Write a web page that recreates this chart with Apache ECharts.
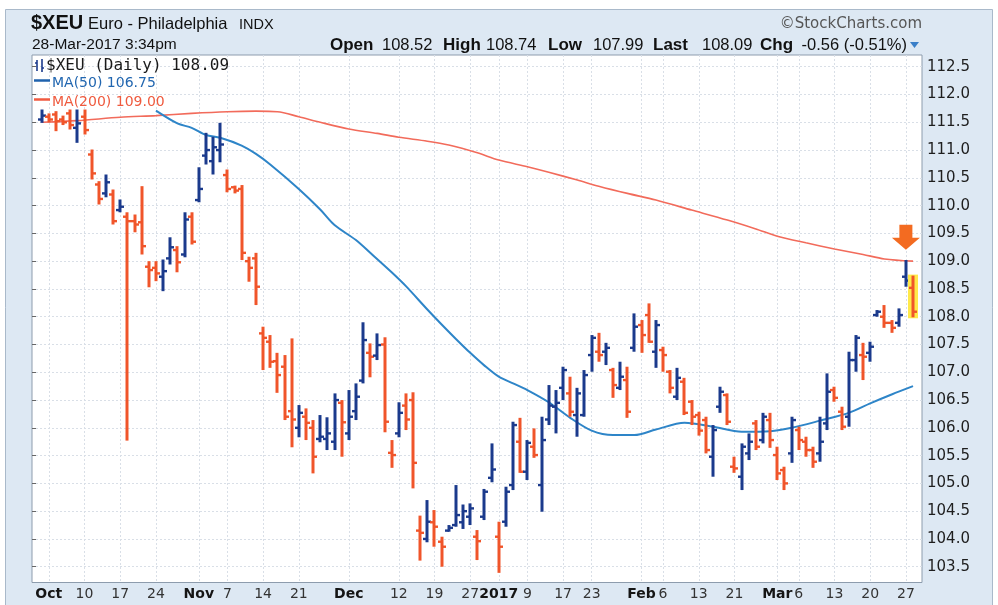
<!DOCTYPE html>
<html>
<head>
<meta charset="utf-8">
<script src="https://cdn.jsdelivr.net/npm/echarts@6/dist/echarts.min.js"></script>
<style>html,body{margin:0;padding:0;background:#fff;}#c{width:998px;height:605px;}</style>
</head>
<body>
<div id="c"></div>
<script>
// ---- categories: trading days ----
const dates = [
'2016-09-30',
'2016-10-03','2016-10-04','2016-10-05','2016-10-06','2016-10-07','2016-10-10','2016-10-11','2016-10-12','2016-10-13','2016-10-14',
'2016-10-17','2016-10-18','2016-10-19','2016-10-20','2016-10-21','2016-10-24','2016-10-25','2016-10-26','2016-10-27','2016-10-28','2016-10-31',
'2016-11-01','2016-11-02','2016-11-03','2016-11-04','2016-11-07','2016-11-08','2016-11-09','2016-11-10','2016-11-11','2016-11-14',
'2016-11-15','2016-11-16','2016-11-17','2016-11-18','2016-11-21','2016-11-22','2016-11-23','2016-11-25','2016-11-28','2016-11-29','2016-11-30',
'2016-12-01','2016-12-02','2016-12-05','2016-12-06','2016-12-07','2016-12-08','2016-12-09','2016-12-12','2016-12-13','2016-12-14',
'2016-12-15','2016-12-16','2016-12-19','2016-12-20','2016-12-21','2016-12-22','2016-12-23','2016-12-27','2016-12-28','2016-12-29','2016-12-30',
'2017-01-03','2017-01-04','2017-01-05','2017-01-06','2017-01-09','2017-01-10','2017-01-11','2017-01-12','2017-01-13','2017-01-17',
'2017-01-18','2017-01-19','2017-01-20','2017-01-23','2017-01-24','2017-01-25','2017-01-26','2017-01-27','2017-01-30','2017-01-31',
'2017-02-01','2017-02-02','2017-02-03','2017-02-06','2017-02-07','2017-02-08','2017-02-09','2017-02-10','2017-02-13','2017-02-14',
'2017-02-15','2017-02-16','2017-02-17','2017-02-21','2017-02-22','2017-02-23','2017-02-24','2017-02-27','2017-02-28',
'2017-03-01','2017-03-02','2017-03-03','2017-03-06','2017-03-07','2017-03-08','2017-03-09','2017-03-10','2017-03-13','2017-03-14',
'2017-03-15','2017-03-16','2017-03-17','2017-03-20','2017-03-21','2017-03-22','2017-03-23','2017-03-24','2017-03-27','2017-03-28'
];

// ---- OHLC values ----
const open = [
111.55,111.60,111.64,111.55,111.66,111.40,111.60,110.92,110.38,110.22,
110.20,109.92,109.80,109.72,109.70,108.90,108.88,108.72,109.05,109.20,
109.12,109.80,110.10,110.90,110.80,111.00,110.55,110.33,110.30,109.00,
109.05,107.70,107.55,107.20,107.10,106.30,106.00,106.20,106.00,105.80,
105.80,105.75,106.45,105.90,106.30,106.85,107.35,107.30,107.50,105.55,
105.90,106.40,106.50,104.15,104.00,104.30,103.95,104.15,104.25,104.30,
104.40,104.04,104.40,105.10,104.04,104.31,104.97,105.75,105.21,105.66,
104.97,106.15,106.38,106.72,106.62,106.23,106.23,107.31,107.37,107.37,
107.04,106.72,106.86,107.44,107.85,108.03,107.37,107.40,107.01,106.56,
106.83,106.47,106.23,106.14,105.48,106.38,106.59,105.30,105.12,105.54,
106.08,105.78,106.14,105.51,105.24,105.54,105.96,105.75,105.60,105.54,
106.08,106.68,106.29,106.20,107.22,107.31,107.35,108.03,108.00,107.89,
107.89,108.72,108.52];
const high = [
111.73,111.66,111.70,111.62,111.73,111.73,111.73,111.01,110.44,110.56,
110.29,110.11,109.88,109.84,110.35,109.00,109.00,109.03,109.43,109.27,
109.88,109.88,110.69,111.31,111.24,111.49,110.65,110.36,110.37,109.08,
109.15,107.82,107.67,107.35,107.31,107.61,106.41,106.35,106.14,106.23,
106.19,106.62,106.50,106.68,106.80,107.90,107.52,107.70,107.63,105.78,
106.46,106.62,106.64,104.42,104.70,104.52,104.04,104.25,104.97,104.62,
104.64,104.16,104.90,105.72,104.31,104.94,106.11,106.18,105.78,105.99,
106.20,106.77,106.68,107.10,106.92,106.72,107.04,107.67,107.71,107.53,
107.08,107.19,107.10,108.06,107.94,108.24,107.94,107.46,107.04,107.08,
106.90,106.50,106.29,106.20,106.05,106.74,106.62,105.48,105.72,105.90,
106.14,106.27,106.27,105.66,105.30,106.20,106.02,105.84,105.66,106.20,
106.98,106.74,106.38,107.37,107.67,107.53,107.55,108.12,108.21,107.94,
108.15,109.02,108.74];
const low = [
111.49,111.50,111.34,111.45,111.37,111.13,111.28,110.47,110.02,110.15,
109.66,109.88,105.77,109.52,109.12,108.53,108.64,108.46,108.94,108.80,
109.07,109.30,110.06,110.74,110.56,110.78,110.24,110.22,109.02,108.63,
108.21,107.04,107.08,106.63,106.14,105.65,105.83,105.78,105.18,105.74,
105.60,105.60,105.48,105.78,106.14,106.80,106.91,107.22,105.92,105.28,
105.83,105.96,104.91,103.61,103.94,103.86,103.50,104.13,104.22,104.18,
104.25,103.62,104.34,105.02,103.39,104.22,104.88,105.19,105.06,105.46,
104.49,106.05,105.90,106.50,106.20,105.84,106.20,107.01,107.19,107.13,
106.54,106.68,106.18,107.37,107.35,107.53,107.08,107.01,106.62,106.50,
106.23,106.05,105.86,105.54,105.12,106.27,106.05,105.19,104.88,105.42,
105.60,105.72,105.64,105.06,104.88,105.37,105.60,105.48,105.28,105.39,
105.96,106.47,105.96,106.02,107.01,106.86,107.19,108.00,107.80,107.71,
107.82,108.54,107.99];
const close = [
111.62,111.55,111.52,111.50,111.45,111.48,111.36,110.58,110.12,110.42,
109.72,109.98,109.72,109.66,109.27,108.84,108.78,108.82,109.25,108.98,
109.75,109.35,110.30,111.00,111.05,111.10,110.30,110.27,109.15,108.88,
108.54,107.62,107.19,106.95,106.20,106.15,106.27,106.09,105.48,105.84,
105.90,106.50,106.10,106.20,106.56,107.58,107.28,107.49,106.11,105.51,
106.27,106.15,105.37,104.11,104.31,104.22,103.86,104.20,104.43,104.50,
104.55,103.96,104.85,105.25,103.86,104.85,106.05,105.21,105.73,105.51,
105.78,106.40,106.45,107.04,106.29,106.62,106.95,107.62,107.31,107.44,
106.77,106.92,106.29,107.82,107.67,107.55,107.85,107.31,106.72,106.90,
106.27,106.20,105.95,105.60,105.96,106.65,106.11,105.27,105.66,105.75,
105.66,106.20,105.78,105.18,105.00,106.14,105.78,105.60,105.39,105.75,
106.65,106.54,106.02,107.22,107.62,107.28,107.46,108.09,107.89,107.80,
108.03,108.65,108.09];

const ma50Idx = [16,19,21,23,25,28,30,32,36,39,41,44,46,49,51,54,56,58,60,62,64,66,68,71,74,77,80,83,86,90,94,98,102,105,109,113,116,119,122];
const ma50Val = [111.71,111.48,111.40,111.27,111.22,111.08,110.93,110.74,110.30,109.93,109.65,109.38,109.15,108.80,108.55,108.13,107.86,107.60,107.35,107.12,106.92,106.80,106.68,106.46,106.18,105.95,105.87,105.87,105.97,106.09,106.02,105.93,105.94,106.00,106.13,106.27,106.44,106.60,106.75];
const ma200Idx = [0,5,11,16,21,26,30,33,36,39,43,47,50,54,57,61,64,68,71,75,78,82,86,91,96,100,103,107,111,115,118,122];
const ma200Val = [111.50,111.53,111.59,111.62,111.66,111.69,111.70,111.69,111.60,111.50,111.38,111.30,111.23,111.16,111.09,110.95,110.82,110.70,110.60,110.46,110.35,110.22,110.10,109.92,109.74,109.58,109.45,109.33,109.22,109.12,109.04,109.00];

// ---- axis tick labels ----
const tickDates = ['2016-10-03','2016-10-10','2016-10-17','2016-10-24','2016-11-01','2016-11-07','2016-11-14','2016-11-21',
'2016-12-01','2016-12-12','2016-12-19','2016-12-27','2017-01-03','2017-01-09','2017-01-17','2017-01-23',
'2017-02-01','2017-02-06','2017-02-13','2017-02-21','2017-03-01','2017-03-06','2017-03-13','2017-03-20','2017-03-27'];
const tickLabels = ['Oct','10','17','24','Nov','7','14','21','Dec','12','19','27','2017','9','17','23','Feb','6','13','21','Mar','6','13','20','27'];
const yTicks = [103.5,104.0,104.5,105.0,105.5,106.0,106.5,107.0,107.5,108.0,108.5,109.0,109.5,110.0,110.5,111.0,111.5,112.0,112.5];

// ---- header values ----
const symbol = '$XEU', title = 'Euro - Philadelphia', exch = 'INDX', stamp = '28-Mar-2017 3:34pm';
const chg = '-0.56 (-0.51%)';

const BLUE = '#1b3a8c', RED = '#f0552a';
const YMIN = 103.216, YMAX = 112.711;
const last = dates.length - 1;
const tickMap = {};
tickDates.forEach((d, k) => tickMap[d] = tickLabels[k]);
const isTick = (idx, val) => tickMap[dates[idx]] !== undefined;

const ohlc = dates.map((d, i) => [i, open[i], high[i], low[i], close[i]]);
const f2 = v => v.toFixed(2);

const chart = echarts.init(document.getElementById('c'), null, {renderer: 'canvas'});
const SANS = 'Liberation Sans, Arial, sans-serif';
const DV = 'DejaVu Sans, Verdana, sans-serif';
const GRIDC = '#d9dfe7';

const option = {
  backgroundColor: '#ffffff',
  animation: false,
  grid: [
    {left: 32, top: 55, width: 890, height: 527.5, show: true, backgroundColor: '#ffffff', borderColor: '#8d9cad', borderWidth: 1, z: 0},
    {left: 38.1, top: 55, width: 878.5, height: 527.5, show: false}
  ],
  xAxis: [
    {gridIndex: 0, type: 'value', min: 0, max: 1, show: false},
    {gridIndex: 1, type: 'category', data: dates, boundaryGap: true, z: 2,
      axisLine: {show: false}, axisTick: {show: false},
      axisLabel: {
        interval: isTick, margin: 5,
        formatter: v => { const t = tickMap[v]; return t.length > 2 ? '{b|' + t + '}' : '{n|' + t + '}'; },
        rich: {
          b: {fontFamily: DV, fontWeight: 'bold', fontSize: 14, color: '#151515'},
          n: {fontFamily: DV, fontSize: 14, color: '#333333'}
        }
      },
      splitLine: {show: true, interval: isTick, alignWithLabel: true, lineStyle: {color: GRIDC, width: 1, type: [2, 2]}}
    }
  ],
  yAxis: [
    {gridIndex: 0, type: 'value', position: 'right', min: YMIN, max: YMAX, z: 2,
      axisLine: {show: false},
      axisTick: {show: true, length: 4, customValues: yTicks, lineStyle: {color: '#666'}},
      axisLabel: {customValues: yTicks, formatter: v => v.toFixed(1), fontFamily: DV, fontSize: 15, color: '#1e1e1e', margin: 5},
      splitLine: {show: true, lineStyle: {color: GRIDC, width: 1, type: [2, 2]}}
    },
    {gridIndex: 1, type: 'value', min: YMIN, max: YMAX, show: false, splitLine: {show: false}}
  ],
  series: [
    {name: 'MA(200)', type: 'line', xAxisIndex: 1, yAxisIndex: 1, symbol: 'none', smooth: 0.3,
      data: ma200Idx.map((ix, k) => [ix, ma200Val[k]]), lineStyle: {color: '#f26b5b', width: 1.6}, z: 3,
      markPoint: {
        symbol: 'path://M7.5,0 L20.5,0 L20.5,13 L28,13 L14,25 L0,13 L7.5,13 Z',
        symbolSize: [28, 25], symbolKeepAspect: false, label: {show: false},
        itemStyle: {color: '#f36b21'},
        data: [{coord: [121, 109.43]}]
      }
    },
    {name: 'MA(50)', type: 'line', xAxisIndex: 1, yAxisIndex: 1, symbol: 'none', smooth: 0.3,
      data: ma50Idx.map((ix, k) => [ix, ma50Val[k]]), lineStyle: {color: '#2e85c8', width: 2}, z: 3},
    {name: '$XEU', type: 'custom', xAxisIndex: 1, yAxisIndex: 1, data: ohlc, z: 4,
      encode: {x: 0, y: [1, 2, 3, 4]},
      renderItem: function (params, api) {
        const i = api.value(0);
        const o = api.coord([i, api.value(1)]);
        const h = api.coord([i, api.value(2)]);
        const l = api.coord([i, api.value(3)]);
        const c = api.coord([i, api.value(4)]);
        const x = Math.round(h[0]);
        const up = i === 0 ? api.value(4) >= api.value(1) : api.value(4) >= close[i - 1];
        const col = up ? BLUE : RED;
        const kids = [];
        if (i === last) {
          kids.push({type: 'rect', shape: {x: x - 5, y: h[1] - 1, width: 10, height: l[1] - h[1] + 2}, style: {fill: '#ffe94a'}});
        }
        kids.push({type: 'line', shape: {x1: x, y1: h[1], x2: x, y2: l[1]}, style: {stroke: col, lineWidth: 3}});
        kids.push({type: 'line', shape: {x1: x - 4, y1: o[1], x2: x, y2: o[1]}, style: {stroke: col, lineWidth: 2.4}});
        kids.push({type: 'line', shape: {x1: x, y1: c[1], x2: x + 4, y2: c[1]}, style: {stroke: col, lineWidth: 2.4}});
        return {type: 'group', children: kids};
      }
    }
  ],
  graphic: {elements: [
    {type: 'rect', z: -10, shape: {x: 5.5, y: 9.5, width: 987, height: 600}, style: {fill: '#dde8f3', stroke: '#a9b9ca', lineWidth: 1}},
    {type: 'text', x: 31, y: 23.5, style: {text: symbol, font: 'bold 20px ' + SANS, fill: '#111', verticalAlign: 'middle'}},
    {type: 'text', x: 88, y: 24, style: {text: title, font: '16.5px ' + SANS, fill: '#111', verticalAlign: 'middle'}},
    {type: 'text', x: 239, y: 24.5, style: {text: exch, font: '14.5px ' + SANS, fill: '#111', verticalAlign: 'middle'}},
    {type: 'text', x: 32, y: 45, style: {text: stamp, font: '15.5px ' + SANS, fill: '#111', verticalAlign: 'middle'}},
    {type: 'text', x: 330, y: 45, style: {text: 'Open', font: 'bold 17px ' + SANS, fill: '#111', verticalAlign: 'middle'}},
    {type: 'text', x: 382, y: 45, style: {text: f2(open[last]), font: '16.5px ' + SANS, fill: '#111', verticalAlign: 'middle'}},
    {type: 'text', x: 443, y: 45, style: {text: 'High', font: 'bold 17px ' + SANS, fill: '#111', verticalAlign: 'middle'}},
    {type: 'text', x: 486, y: 45, style: {text: f2(high[last]), font: '16.5px ' + SANS, fill: '#111', verticalAlign: 'middle'}},
    {type: 'text', x: 548, y: 45, style: {text: 'Low', font: 'bold 17px ' + SANS, fill: '#111', verticalAlign: 'middle'}},
    {type: 'text', x: 593, y: 45, style: {text: f2(low[last]), font: '16.5px ' + SANS, fill: '#111', verticalAlign: 'middle'}},
    {type: 'text', x: 653, y: 45, style: {text: 'Last', font: 'bold 17px ' + SANS, fill: '#111', verticalAlign: 'middle'}},
    {type: 'text', x: 702, y: 45, style: {text: f2(close[last]), font: '16.5px ' + SANS, fill: '#111', verticalAlign: 'middle'}},
    {type: 'text', x: 760, y: 45, style: {text: 'Chg', font: 'bold 17px ' + SANS, fill: '#111', verticalAlign: 'middle'}},
    {type: 'text', x: 907, y: 45, style: {text: chg, font: '16.5px ' + SANS, fill: '#111', align: 'right', verticalAlign: 'middle'}},
    {type: 'polygon', shape: {points: [[910, 42], [919, 42], [914.5, 48]]}, style: {fill: '#3a7fc8'}},
    {type: 'text', x: 922, y: 24, style: {text: '\u00A9StockCharts.com', font: '15px ' + DV, fill: '#555', align: 'right', verticalAlign: 'middle'}},
    // legend inside plot
    {type: 'polyline', z: 10, shape: {points: [[37, 60], [37, 71]]}, style: {stroke: BLUE, lineWidth: 1.6}},
    {type: 'polyline', z: 10, shape: {points: [[35, 63], [37, 63]]}, style: {stroke: BLUE, lineWidth: 1.4}},
    {type: 'polyline', z: 10, shape: {points: [[42, 59], [42, 72]]}, style: {stroke: BLUE, lineWidth: 1.6}},
    {type: 'polyline', z: 10, shape: {points: [[42, 68], [44, 68]]}, style: {stroke: BLUE, lineWidth: 1.4}},
    {type: 'text', z: 10, x: 46, y: 65.5, style: {text: symbol + ' (Daily) ' + f2(close[last]), font: '16px DejaVu Sans Mono, monospace', fill: '#1a1a1a', verticalAlign: 'middle'}},
    {type: 'polyline', z: 10, shape: {points: [[34, 80.5], [50, 80.5]]}, style: {stroke: '#1f62ad', lineWidth: 2.5}},
    {type: 'text', z: 10, x: 52, y: 83.5, style: {text: 'MA(50) ' + f2(ma50Val[ma50Val.length - 1]), font: '14px ' + DV, fill: '#2166b0', verticalAlign: 'middle'}},
    {type: 'polyline', z: 10, shape: {points: [[34, 99.5], [50, 99.5]]}, style: {stroke: '#f05a40', lineWidth: 2.5}},
    {type: 'text', z: 10, x: 52, y: 102, style: {text: 'MA(200) ' + f2(ma200Val[ma200Val.length - 1]), font: '14px ' + DV, fill: '#ef5a3e', verticalAlign: 'middle'}}
  ]}
};
chart.setOption(option);
</script>
</body>
</html>
